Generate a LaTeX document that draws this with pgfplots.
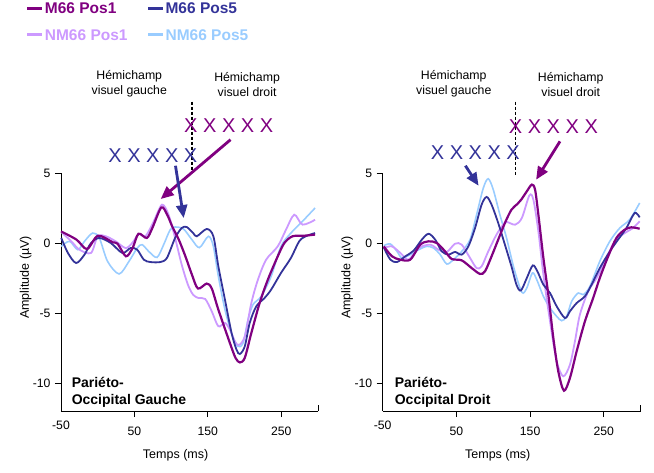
\documentclass[border=0pt]{standalone}
\usepackage{fontspec}
\setmainfont{Liberation Sans}
\usepackage{pgfplots}
\pgfplotsset{compat=1.18}
\usetikzlibrary{arrows.meta}
\definecolor{mpur}{RGB}{128,0,128}
\definecolor{mnavy}{RGB}{51,51,153}
\definecolor{lpur}{RGB}{204,153,255}
\definecolor{lblue}{RGB}{153,204,255}
\newcommand{\tickfont}{\fontsize{12.2}{14}\selectfont}
\pgfplotsset{
  erp/.style={
    scale only axis, height=238pt,
    xmin=-50, xmax=300, ymin=-12, ymax=5,
    axis x line*=bottom, axis y line*=left,
    xtick={50,150,250}, extra x ticks={-50},
    extra x tick style={major tick length=0pt},
    ytick={-10,-5,0,5},
    tick align=outside, major tick length=6pt,
    every tick/.style={black, line width=0.8pt},
    axis line style={line width=0.8pt, black},
    /pgf/number format/assume math mode=true,
    ticklabel style={font=\tickfont},
    xticklabel style={yshift=-6.5pt},
    yticklabel style={xshift=-1pt},
    clip=false,
    xlabel={Temps (ms)},
    xlabel style={font=\fontsize{12.5}{14}\selectfont, at={(axis description cs:0.446,-0.185)}, anchor=center},
    ylabel={Amplitude (µV)},
    ylabel style={font=\fontsize{12.5}{14}\selectfont, at={(axis description cs:-0.138,0.561)}, anchor=center},
    legend image code/.code={\draw[##1] (0pt,0pt) -- (15pt,0pt);},
  },
  cA/.style={mpur, line width=2.2pt, smooth, tension=0.5},
  cB/.style={lpur, line width=1.8pt, smooth, tension=0.5},
  cC/.style={mnavy, line width=1.8pt, smooth, tension=0.5},
  cD/.style={lblue, line width=1.6pt, smooth, tension=0.5},
}
\tikzset{
  ann/.style={font=\fontsize{12.3}{15}\selectfont, align=center},
  xx/.style={font=\fontsize{20}{22}\selectfont, inner sep=0pt},
  arr/.style={line width=2.8pt, -{Triangle[length=13pt,width=11pt]}},
  plab/.style={font=\bfseries\fontsize{14}{17.3}\selectfont, align=left, anchor=north west, inner sep=0pt},
}
\begin{document}
\begin{tikzpicture}
% ---------------- left panel ----------------
\begin{axis}[erp, width=257pt, at={(61pt,61pt)}, anchor=south west,
  legend columns=2,
  legend style={draw=none, fill=none, inner sep=0pt,
    at={(axis description cs:-0.1374,1.718)}, anchor=north west,
    font=\bfseries\fontsize{15.5}{18}\selectfont,
    nodes={inner sep=0pt, text height=11.5pt, text depth=0pt},
    row sep=15pt,
    /tikz/every odd column/.append style={column sep=1pt},
    /tikz/every even column/.append style={column sep=19pt}},
  legend cell align=left]
\addlegendimage{mpur, line width=3pt}
\addlegendentry{\textcolor{mpur}{M66 Pos1}}
\addlegendimage{mnavy, line width=3pt}
\addlegendentry{\textcolor{mnavy}{M66 Pos5}}
\addlegendimage{lpur, line width=3pt}
\addlegendentry{\textcolor{lpur}{NM66 Pos1}}
\addlegendimage{lblue, line width=3pt}
\addlegendentry{\textcolor{lblue}{NM66 Pos5}}

\addplot[cD, forget plot] coordinates {(-49.6,-0.24) (-38.3,0.12) (-27.1,-0.48) (-18,0.12) (-6.9,0.71) (2.2,0.36) (13.4,-1.31) (29.1,-2.21) (42.6,-1.31) (53.8,-0.36) (60.5,-0.12) (69.5,-0.6) (80.7,-1.03) (89.8,-0.12) (98.7,0.95) (105.4,1.14) (116.8,1.0) (128.3,0.24) (138.5,-0.33) (150.8,0.48) (157.5,-0.24) (164.3,-2.38) (173.3,-4.76) (182.3,-6.43) (190.3,-7.38) (198,-7.14) (204.7,-5.48) (211.5,-4.4) (222.7,-3.81) (236.2,-2.38) (249.6,-0.24) (263.1,0.71) (278.9,1.55) (296,2.5)};
\addplot[cB, forget plot] coordinates {(-49.6,0.78) (-36,0.12) (-24.8,-0.48) (-9.1,-0.71) (-0.1,0.48) (11,0.48) (24.5,0.12) (38,-0.36) (47,0) (56,0.64) (65,0.48) (76.3,1.55) (87.5,2.74) (96.5,2.02) (105.4,0.36) (114.4,-1.55) (123,-3.0) (130,-3.7) (137.3,-3.93) (146.4,-4.0) (155.3,-4.88) (164.3,-5.95) (173.3,-5.71) (180,-6.19) (186.8,-7.02) (192.2,-7.29) (200.3,-6.67) (209.2,-4.29) (218.2,-2.62) (229.4,-1.19) (245.2,-0.24) (256.4,0.95) (267.7,2.02) (278.9,1.31) (296,1.66)};
\addplot[cC, forget plot] coordinates {(-49.6,0.36) (-40.6,-0.71) (-29.4,-1.43) (-18,-0.83) (-9.1,0) (2.2,0.36) (17.8,0) (33.6,-0.71) (44.8,-0.36) (53.8,-0.48) (62.8,-1.19) (71.7,-1.36) (85.2,-1.36) (94.2,-1.07) (105.4,0.36) (114.4,1.07) (121.2,1.14) (130.2,0.7) (135,0.48) (148.5,1.0) (157.5,0.48) (164.3,-1.67) (173.3,-4.05) (182.3,-6.43) (189,-7.62) (193.6,-7.93) (200.3,-7.38) (207,-5.71) (216,-4.52) (227.2,-3.93) (236.2,-3.33) (249.6,-2.14) (263.1,-1.07) (274.4,0.12) (283.3,0.48) (296,0.71)};
\addplot[cA, forget plot] coordinates {(-50,0.83) (-28.9,0.24) (-14.5,-0.43) (0.3,0.52) (20.5,0.05) (27,-0.05) (38.5,-0.95) (47.5,-0.36) (55.5,0.66) (66.9,0.36) (74.4,1.07) (86.6,2.54) (94.6,2.02) (101.4,1.19) (110.4,0.24) (119.4,-0.95) (128.3,-2.26) (136.5,-3.25) (148.5,-2.9) (155.3,-3.25) (164.3,-4.76) (180,-7.14) (187.7,-8.21) (193.6,-8.53) (200.3,-8.2) (209.2,-6.43) (220.5,-4.29) (231.7,-2.62) (245.2,-0.95) (254.2,0) (265.4,0.48) (281.2,0.52) (296,0.6)};

\draw[line width=0.8pt] (axis cs:300,-12) -- ([yshift=5.7pt]axis cs:300,-12);
\node[ann] at (axis cs:43,11.34) {Hémichamp\\visuel gauche};
\node[ann] at (axis cs:203.4,11.34) {Hémichamp\\visuel droit};
\draw[line width=1.3pt, dash pattern=on 3pt off 2pt] (axis cs:128.5,10.09) -- (axis cs:128.5,5.02);
\node[xx, text=mpur] at (axis cs:178.4,8.4) {X X X X X};
\node[xx, text=mnavy] at (axis cs:75.1,6.24) {X X X X X};
\draw[arr, mpur] (axis cs:180.9,7.38) -- (axis cs:85.7,3.14);
\draw[arr, mnavy] (axis cs:105.9,5.52) -- (axis cs:117.1,1.78);
\node[plab] at (axis cs:-35.6,-9.55) {Pariéto-\\Occipital Gauche};
\end{axis}

% ---------------- right panel ----------------
\begin{axis}[erp, width=258pt, at={(382.7pt,61pt)}, anchor=south west]
\addplot[cD] coordinates {(-48.6,-0.19) (-39.6,-0.07) (-30.6,-0.6) (-23.9,-1.07) (-12.6,-0.83) (-1.3,-0.48) (9.9,-0.24) (18.9,-0.36) (28,-0.83) (36.9,-1.5) (45.9,-1.19) (57.2,-0.6) (68.5,0.24) (77.4,2.02) (86.5,3.93) (93.2,4.59) (100,3.81) (109,2.02) (118,0.36) (128,-1.8) (138.8,-3.52) (145.5,-3.21) (153.1,-2.14) (159,-2.62) (168,-3.81) (177,-4.64) (186,-5.24) (192.8,-5.55) (199.6,-5.24) (206.3,-4.17) (215.3,-3.57) (222.1,-3.69) (231.1,-3.1) (244.5,-1.31) (258.1,0.12) (271.6,1.07) (285.1,1.67) (298.6,2.86)};
\addplot[cB] coordinates {(-48.6,-0.36) (-37.4,-0.24) (-26.1,-0.71) (-14.9,-1.19) (-1.3,-0.36) (14.5,-0.12) (25.7,-0.48) (36.9,-0.64) (48.2,-0.05) (57.2,-0.12) (68.5,-1.07) (77.4,-1.79) (84.2,-1.67) (93.2,-0.6) (104.4,0.6) (113.5,1.31) (118.5,1.5) (129.7,1.31) (138.8,1.79) (149,3.4) (154.4,3.09) (161.2,0.83) (168,-2.26) (177,-5.6) (186,-8.45) (195,-9.52) (204,-8.69) (210.8,-7.02) (217.5,-5.12) (228.8,-3.45) (240.1,-2.5) (253.6,-1.07) (264.8,0.12) (278.3,0.71) (289.6,1.07) (298.6,1.55)};
\addplot[cC] coordinates {(-48.6,-0.31) (-39.6,-1.19) (-30.6,-1.36) (-19.3,-0.95) (-8.1,-0.55) (3.1,0.24) (12.2,0.66) (21.2,0.24) (30.2,-0.6) (39.2,-0.83) (48.2,-0.64) (57.2,-0.83) (66.2,-0.24) (75.3,1.07) (84.2,2.74) (91,3.29) (97.7,2.74) (106.7,1.43) (115.8,-0.12) (124.7,-1.67) (131.5,-2.98) (137.4,-3.4) (145.5,-2.5) (153.6,-1.6) (159.8,-2.02) (168,-2.98) (177,-3.57) (186,-4.52) (197.3,-5.36) (204,-4.88) (213.1,-4.29) (224.3,-3.81) (233.3,-2.98) (244.5,-1.79) (258.1,-0.6) (269.3,0.24) (280.6,1.07) (291.8,2.14) (298.6,1.83)};
\addplot[cA] coordinates {(-48.6,-0.24) (-37.4,-0.95) (-26.1,-1.19) (-12.6,-1.19) (0.9,-0.12) (12.2,0.12) (23.4,0) (34.7,-0.6) (43.6,-1.14) (57.2,-1.24) (70.7,-1.79) (82,-2.21) (88.8,-2.02) (97.7,-0.95) (106.7,0.24) (115.8,1.43) (124.7,2.38) (132.8,2.79) (138,3.1) (145.5,3.69) (152.3,4.17) (156.7,3.81) (161.2,2.02) (168,-1.07) (174.7,-3.69) (181.5,-6.79) (188.2,-9.17) (195.9,-10.55) (204,-9.64) (213.1,-7.74) (224.3,-5.6) (235.5,-3.93) (244.5,-2.5) (255.9,-0.95) (267.1,0.36) (278.3,0.95) (287.4,1.12) (298.6,1.02)};

\draw[line width=0.8pt] (axis cs:300,-12) -- ([yshift=5.7pt]axis cs:300,-12);
\node[ann] at (axis cs:46.4,11.34) {Hémichamp\\visuel gauche};
\node[ann] at (axis cs:205.1,11.34) {Hémichamp\\visuel droit};
\draw[line width=1.3pt, dash pattern=on 3pt off 2pt] (axis cs:129.7,10.09) -- (axis cs:129.7,4.88);
\node[xx, text=mpur] at (axis cs:181.6,8.33) {X X X X X};
\node[xx, text=mnavy] at (axis cs:75.7,6.43) {X X X X X};
\draw[arr, mnavy] (axis cs:62.2,5.52) -- (axis cs:80.1,4.09);
\draw[arr, mpur] (axis cs:190.5,7.26) -- (axis cs:158.1,4.52);
\node[plab] at (axis cs:-33.8,-9.55) {Pariéto-\\Occipital Droit};
\end{axis}
\pgfresetboundingbox
\useasboundingbox (0,0) rectangle (654pt,472pt);
\end{tikzpicture}
\end{document}
